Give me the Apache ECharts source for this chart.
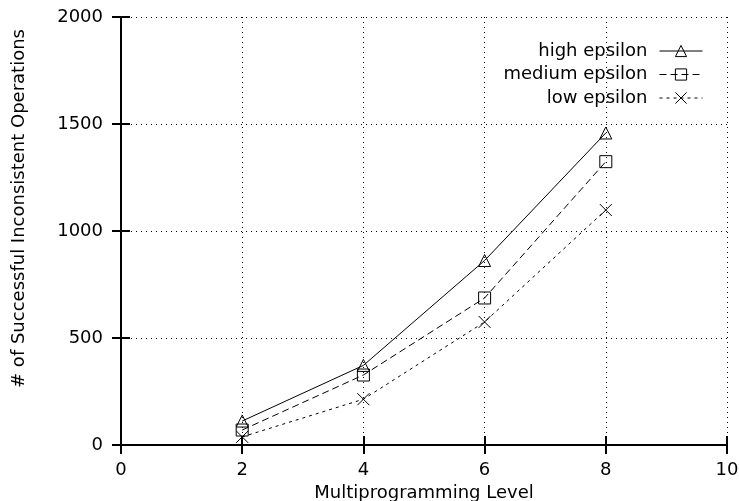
<!DOCTYPE html>
<html>
<head>
<meta charset="utf-8">
<script src="https://cdn.jsdelivr.net/npm/echarts@6/dist/echarts.min.js"></script>
<style>html,body{margin:0;padding:0;background:#fff}#c{width:739px;height:501px}</style>
</head>
<body>
<div id="c"></div>
<script>
var xValues = [2, 4, 6, 8];
var seriesNames = ['high epsilon', 'medium epsilon', 'low epsilon'];
var highEps = [112, 372, 862, 1458];
var mediumEps = [70, 327, 687, 1324];
var lowEps = [38, 214, 575, 1098];
var xTicks = [0, 2, 4, 6, 8, 10];
var yTicks = [0, 500, 1000, 1500, 2000];
var xAxisTitle = 'Multiprogramming Level';
var yAxisTitle = '# of Successful Inconsistent Operations';

var FONT = 'DejaVu Sans, sans-serif';
var FS = 18;
var xPath = 'path://M0,0L10,10M10,0L0,10';

function pairs(v){ return xValues.map(function(x,i){ return [x, v[i]]; }); }

var chart = echarts.init(document.getElementById('c'), null, {renderer:'canvas'});
var axisCommon = {
  axisLine:{show:true, lineStyle:{color:'#000', width:2}},
  axisTick:{show:true, inside:true, length:9, lineStyle:{color:'#000', width:2}},
  splitLine:{show:false}
};
function fmt(v){ return String(v); }
function mkSeries(name, data, symbol, dash){
  return {
    name:name, type:'line', data:pairs(data), symbol:symbol, symbolSize:12,
    lineStyle:{color:'#000', width:1, type:dash},
    itemStyle:{color:'rgba(0,0,0,0)', borderColor:'#000', borderWidth:1},
    emphasis:{disabled:true}, animation:false
  };
}
function mkLegend(name, top){
  return {
    data:[name], right:36, top:top, align:'right', itemWidth:43, itemHeight:14, itemGap:12,
    textStyle:{fontFamily:FONT, fontSize:FS, color:'#000', padding:[0,7,0,0]}, padding:0, selectedMode:false,
    itemStyle:{color:'rgba(0,0,0,0)', borderColor:'#000', borderWidth:1},
    lineStyle:{width:1}
  };
}
chart.setOption({
  animation:false,
  grid:{left:121, right:12, top:17, bottom:56, containLabel:false, outerBoundsMode:'none'},
  legend:[mkLegend(seriesNames[0], 42), mkLegend(seriesNames[1], 65.5), mkLegend(seriesNames[2], 89)],
  graphic:[{
    type:'text', x:19, y:208.5, rotation:Math.PI/2,
    style:{text:yAxisTitle, fontFamily:FONT, fontSize:FS, fill:'#000', align:'center', verticalAlign:'middle'}
  }],
  xAxis:[
    Object.assign({}, axisCommon, {
      type:'value', min:xTicks[0], max:xTicks[xTicks.length-1], interval:xTicks[1]-xTicks[0], position:'bottom',
      name:xAxisTitle, nameLocation:'middle', nameGap:38,
      nameTextStyle:{fontFamily:FONT, fontSize:FS, color:'#000'},
      axisLabel:{fontFamily:FONT, fontSize:FS, color:'#000', margin:16, formatter:fmt},
      splitLine:{show:true, lineStyle:{color:'#000', width:1, type:[1,4]}}
    }),
    Object.assign({}, axisCommon, {
      type:'value', min:xTicks[0], max:xTicks[xTicks.length-1], interval:xTicks[1]-xTicks[0], position:'top', axisLabel:{show:false}
    })
  ],
  yAxis:[
    Object.assign({}, axisCommon, {
      type:'value', min:yTicks[0], max:yTicks[yTicks.length-1], interval:yTicks[1]-yTicks[0], position:'left',
      axisLabel:{fontFamily:FONT, fontSize:FS, color:'#000', margin:18, formatter:fmt},
      splitLine:{show:true, lineStyle:{color:'#000', width:1, type:[1,4]}}
    }),
    Object.assign({}, axisCommon, {
      type:'value', min:yTicks[0], max:yTicks[yTicks.length-1], interval:yTicks[1]-yTicks[0], position:'right', axisLabel:{show:false}
    })
  ],
  series:[
    mkSeries(seriesNames[0], highEps, 'triangle', 'solid'),
    mkSeries(seriesNames[1], mediumEps, 'rect', [7,4]),
    mkSeries(seriesNames[2], lowEps, xPath, [3,4])
  ]
});
</script>
</body>
</html>
